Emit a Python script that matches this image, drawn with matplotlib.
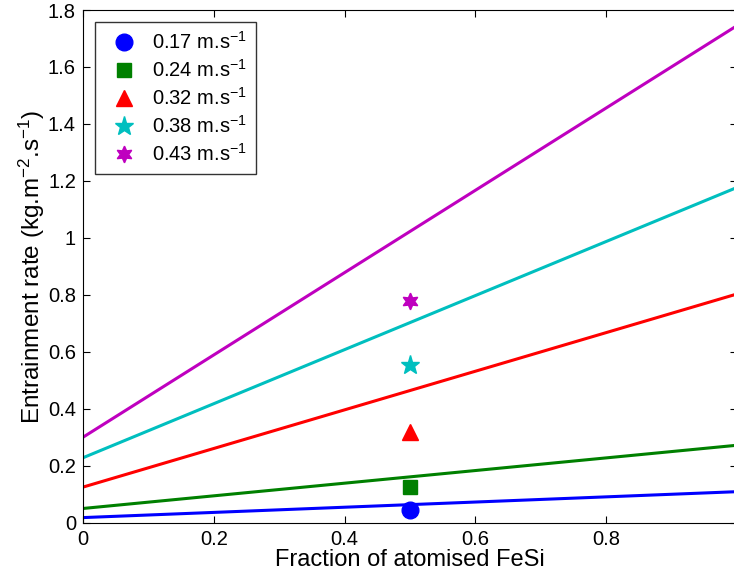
import numpy as np
import matplotlib
matplotlib.use('Agg')
import matplotlib.pyplot as plt

plt.rcParams['font.family'] = ['Liberation Sans', 'DejaVu Sans']
plt.rcParams['mathtext.fontset'] = 'custom'
plt.rcParams['mathtext.rm'] = 'Liberation Sans'

# fitted lines: value at x=0 and x=1
velocities = ['0.17', '0.24', '0.32', '0.38', '0.43']
lineStart = [0.018, 0.050, 0.125, 0.228, 0.300]
lineEnd = [0.109, 0.272, 0.803, 1.177, 1.745]

# measured points at x = 0.5
pointX = [0.5, 0.5, 0.5, 0.5, 0.5]
pointY = [0.045, 0.124, 0.320, 0.554, 0.780]

colors = [(0, 0, 1), (0, 0.5, 0), (1, 0, 0), (0, 0.75, 0.75), (0.75, 0, 0.75)]
markers = ['o', 's', '^', '*', (6, 1, 0)]
sizes = [12, 10, 12, 14, 12]

fig = plt.figure(figsize=(7.34, 5.79), dpi=100)
ax = fig.add_axes([0.113, 0.0972, 0.891, 0.8855])

xs = np.array([0.0, 1.0])
for i in range(len(velocities)):
    ax.plot(xs, [lineStart[i], lineEnd[i]], color=colors[i], linewidth=2.2)

handles = []
for i in range(len(velocities)):
    h, = ax.plot(pointX[i], pointY[i], linestyle='none', marker=markers[i],
                 markersize=sizes[i], color=colors[i],
                 markeredgecolor=colors[i],
                 label=velocities[i] + r' m.s$\mathregular{^{-1}}$')
    handles.append(h)

ax.set_xlim(0, 1)
ax.set_ylim(0, 1.8)
# the "1" label falls outside the cropped figure, so it is left blank
ax.set_xticks([0, 0.2, 0.4, 0.6, 0.8, 1.0])
ax.set_xticklabels(['0', '0.2', '0.4', '0.6', '0.8', ''])
ax.set_yticks(np.arange(0, 1.81, 0.2))
ax.set_yticklabels(['0', '0.2', '0.4', '0.6', '0.8', '1', '1.2', '1.4', '1.6', '1.8'])
ax.tick_params(direction='in', top=True, right=True, labelsize=14.5,
               length=5, pad=5)

ax.set_xlabel('Fraction of atomised FeSi', fontsize=17, labelpad=0)
ax.set_ylabel(r'Entrainment rate (kg.m$\mathregular{^{-2}}$.s$\mathregular{^{-1}}$)',
              fontsize=17.5, labelpad=1)

leg = ax.legend(handles=handles, loc='upper left', fontsize=14.5,
                frameon=True, fancybox=False, edgecolor='black',
                borderaxespad=0.6, handletextpad=0.4, labelspacing=0.3,
                borderpad=0.45)
leg.get_frame().set_linewidth(1.0)

plt.savefig('out.png', dpi=100)
